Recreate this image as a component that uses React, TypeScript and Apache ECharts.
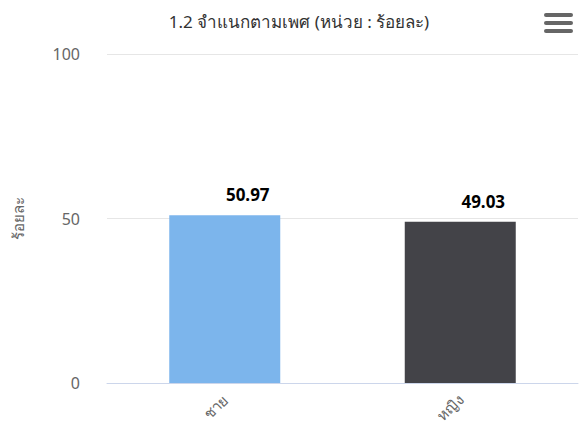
import React, { useEffect, useRef } from "react";
import * as echarts from "echarts";

const categories = ["ชาย", "หญิง"];
const values = [50.97, 49.03];
const barColors = ["#7cb5ec", "#434348"];
const yTicks = [0, 50, 100];
const titleText = "1.2 จำแนกตามเพศ (หน่วย : ร้อยละ)";
const yAxisName = "ร้อยละ";

export default function App() {
  const ref = useRef<HTMLDivElement>(null);
  useEffect(() => {
    document.body.style.margin = "0";
    if (!ref.current) return;
    const chart = echarts.init(ref.current, undefined, { renderer: "svg" });
    const font = '"Noto Sans", "DejaVu Sans", sans-serif';
    chart.setOption({
      animation: false,
      textStyle: { fontFamily: font },
      title: {
        text: titleText,
        left: 294,
        textAlign: "center",
        top: 8,
        textStyle: { fontSize: 17, fontWeight: "normal", color: "#333333", fontFamily: font },
      },
      grid: { left: 107, right: 2, top: 54, bottom: 59 },
      xAxis: {
        type: "category",
        data: categories,
        axisLine: { lineStyle: { color: "#ccd6eb" } },
        axisTick: { show: false },
        axisLabel: { rotate: 45, color: "#666666", fontSize: 15, margin: 14, fontFamily: font },
      },
      yAxis: {
        type: "value",
        min: yTicks[0],
        max: yTicks[yTicks.length - 1],
        interval: 50,
        name: yAxisName,
        nameLocation: "middle",
        nameGap: 82,
        nameRotate: 90,
        nameTextStyle: { color: "#666666", fontSize: 15, fontFamily: font },
        axisLabel: { color: "#666666", fontSize: 16, margin: 27, fontFamily: font },
        splitLine: { lineStyle: { color: "#e6e6e6" } },
        axisLine: { show: false },
        axisTick: { show: false },
      },
      series: [
        {
          type: "bar",
          barWidth: 111,
          data: values.map((v, i) => ({ value: v, itemStyle: { color: barColors[i] } })),
          label: {
            show: true,
            position: "top",
            distance: 12,
            offset: [23, 0],
            color: "#000000",
            fontSize: 17,
            fontWeight: "bold",
            fontFamily: font,
          },
        },
      ],
      graphic: [
        { type: "rect", shape: { x: 544, y: 13, width: 29, height: 4, r: 2 }, style: { fill: "#666666" } },
        { type: "rect", shape: { x: 544, y: 21, width: 29, height: 4, r: 2 }, style: { fill: "#666666" } },
        { type: "rect", shape: { x: 544, y: 29, width: 29, height: 4, r: 2 }, style: { fill: "#666666" } },
      ],
    });
    return () => chart.dispose();
  }, []);
  return <div ref={ref} style={{ width: 580, height: 442 }} />;
}
